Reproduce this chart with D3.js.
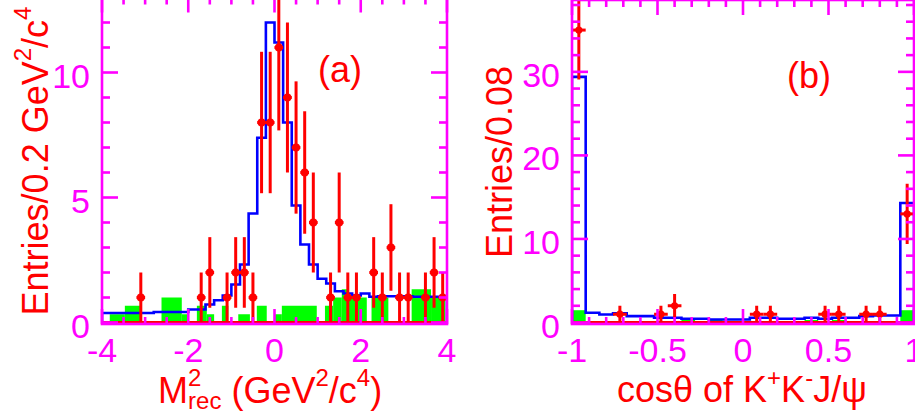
<!DOCTYPE html>
<html><head><meta charset="utf-8">
<script src="https://cdn.jsdelivr.net/npm/d3@7"></script>
<style>body{margin:0;background:#fff}svg{display:block}text{font-family:"Liberation Sans",Arial,sans-serif}</style>
</head><body>
<svg id="c" width="915" height="419"></svg>
<script>
// ---------- Panel (a): M^2_rec ----------
const aBinLo = -4, aBinW = 0.2;
const aBlue = [0.38,0.38,0.38,0.38,0.38,0.38,0.42,0.42,0.42,0.42,
               0.52,0.52,0.72,0.89,1.08,1.52,2.32,4.36,7.39,12.0,
               11.2,8.0,4.68,3.12,2.32,1.75,1.56,1.25,1.16,1.08,
               1.16,1.03,1.05,1.05,1.05,1.05,1.03,1.03,1.03,1.03];
const aDataX = [-3.1,-1.7,-1.5,-1.1,-0.9,-0.7,-0.5,-0.3,-0.1,0.1,0.3,0.5,0.7,0.9,1.3,1.5,1.7,1.9,2.3,2.5,2.7,2.9,3.1,3.5,3.7,3.9];
const aDataN = [1,1,2,1,2,2,1,8,8,11,9,7,6,4,1,4,1,1,2,1,3,1,1,1,2,1];
const aGreenX0 = [-3.82,-3.47,-2.62,-2.15,-1.80,-1.57,-1.22,-0.84,-0.41,0.01,0.17,1.17,1.36,1.56,1.71,2.25,3.18,3.63];
const aGreenX1 = [-3.47,-3.12,-2.15,-2.00,-1.57,-1.40,-1.07,-0.57,-0.18,0.17,0.98,1.36,1.56,1.71,2.14,2.64,3.63,3.96];
const aGreenH  = [0.33,0.67,1.0,0.33,0.67,0.33,0.67,0.33,0.67,0.33,0.67,0.67,1.0,1.33,1.0,1.0,1.33,1.0];
const aXTicks = [-4,-2,0,2,4];
const aYTicks = [0,5,10];

// ---------- Panel (b): cos theta ----------
const bBinLo = -1, bBinW = 0.08;
const bBlue = [29.4,1.16,0.96,1.1,0.76,0.76,0.56,0.56,0.44,0.44,0.36,0.36,0.36,0.56,0.56,0.44,0.44,0.56,0.44,0.56,0.56,0.76,0.84,0.84,14.3];
const bGreen = [1.47,0,0,0,0,0,0,0,0.3,0,0.3,0,0,0,0,0,0,0.3,0,0.3,0,0,0,0,1.47];
const bDataX = [-0.96,-0.72,-0.48,-0.40,0.08,0.16,0.48,0.56,0.72,0.80,0.96];
const bDataN = [35,1,1,2,1,1,1,1,1,1,13];
const bXTicks = [-1,-0.5,0,0.5,1];
const bYTicks = [0,10,20,30];

const MAG = "#ff00ff", RED = "#ff0000", BLUE = "#0000ff", GREEN = "#00ff00";
const svg = d3.select("#c");
svg.append("rect").attr("width",915).attr("height",419).attr("fill","#fff");

function panel(o){
  const g = svg.append("g");
  const x = o.x, y = o.y;
  const [x0,x1] = x.range(), [yb,yt] = y.range();
  const clipId = "clip"+o.id;
  svg.append("clipPath").attr("id",clipId).append("rect")
     .attr("x",x0).attr("y",yt).attr("width",x1-x0).attr("height",yb-yt+2);
  const pg = g.append("g").attr("clip-path",`url(#${clipId})`);
  // green
  pg.selectAll("rect.gr").data(o.green).join("rect")
    .attr("x",d=>x(d.x0)).attr("width",d=>x(d.x1)-x(d.x0))
    .attr("y",d=>y(d.h)).attr("height",d=>y(0)-y(d.h)).attr("fill",GREEN);
  // red zero line
  pg.append("line").attr("x1",x0).attr("x2",x1).attr("y1",y(0)-0.5).attr("y2",y(0)-0.5)
    .attr("stroke",RED).attr("stroke-width",2);
  // blue step histogram
  const pts = [[o.binLo,0]];
  o.blue.forEach((v,i)=>{pts.push([o.binLo+i*o.binW,v]);pts.push([o.binLo+(i+1)*o.binW,v]);});
  pts.push([o.binLo+o.blue.length*o.binW,0]);
  pg.append("path").attr("d",d3.line().x(d=>x(d[0])).y(d=>y(d[1]))(pts))
    .attr("fill","none").attr("stroke",BLUE).attr("stroke-width",2.6).attr("stroke-linejoin","miter");
  // data points
  const dg = pg.selectAll("g.pt").data(o.data).join("g");
  dg.append("line").attr("x1",d=>x(d.x)).attr("x2",d=>x(d.x))
    .attr("y1",d=>y(Math.max(0,d.n-Math.sqrt(d.n)))).attr("y2",d=>y(d.n+Math.sqrt(d.n)))
    .attr("stroke",RED).attr("stroke-width",3);
  dg.append("line").attr("x1",d=>x(d.x-o.binW/2)).attr("x2",d=>x(d.x+o.binW/2))
    .attr("y1",d=>y(d.n)).attr("y2",d=>y(d.n)).attr("stroke",RED).attr("stroke-width",3);
  dg.append("circle").attr("cx",d=>x(d.x)).attr("cy",d=>y(d.n)).attr("r",o.r).attr("fill",RED);
  // frame
  g.append("rect").attr("x",x0).attr("y",yt).attr("width",x1-x0).attr("height",yb-yt+1.5)
    .attr("fill","none").attr("stroke",MAG).attr("stroke-width",2.6);
  // ticks
  const tg = g.append("g").attr("stroke",MAG).attr("stroke-width",2.6);
  const xMin = x.ticks ? d3.range(Math.round((x.domain()[1]-x.domain()[0])/o.xMinor)+1).map(i=>x.domain()[0]+i*o.xMinor) : [];
  xMin.forEach(v=>{
    const maj = Math.abs(v/o.xMajor - Math.round(v/o.xMajor))<1e-6;
    const L = maj?15:7;
    tg.append("line").attr("x1",x(v)).attr("x2",x(v)).attr("y1",yt).attr("y2",yt+L);
    tg.append("line").attr("x1",x(v)).attr("x2",x(v)).attr("y1",yb+1.5).attr("y2",yb+1.5-L);
  });
  const yN = Math.floor(y.domain()[1]/o.yMinor);
  d3.range(yN+1).map(i=>i*o.yMinor).forEach(v=>{
    const maj = Math.abs(v/o.yMajor - Math.round(v/o.yMajor))<1e-6;
    const L = maj?16:8;
    tg.append("line").attr("x1",x0).attr("x2",x0+L).attr("y1",y(v)).attr("y2",y(v));
    tg.append("line").attr("x1",x1).attr("x2",x1-L).attr("y1",y(v)).attr("y2",y(v));
  });
  // tick labels
  g.selectAll("text.xt").data(o.xTicks).join("text")
    .attr("x",d=>x(d)).attr("y",362).attr("text-anchor","middle")
    .attr("font-size",34).attr("fill",MAG).text(d=>d3.format("")(d).replace("−","-"));
  g.selectAll("text.yt").data(o.yTicks).join("text")
    .attr("x",x0-12).attr("y",d=>y(d)+15).attr("text-anchor","end")
    .attr("font-size",34).attr("fill",MAG).text(d=>d);
  // panel label
  g.append("text").attr("x",o.lab[0]).attr("y",o.lab[1]).attr("text-anchor","middle")
    .attr("font-size",36).attr("fill",RED).text(o.label);
}

panel({id:"a", x:d3.scaleLinear([-4,4],[102,447]), y:d3.scaleLinear([0,13],[322.5,-2.5]),
  binLo:aBinLo, binW:aBinW, blue:aBlue,
  green:aGreenX0.map((v,i)=>({x0:v,x1:aGreenX1[i],h:aGreenH[i]})),
  data:aDataX.map((v,i)=>({x:v,n:aDataN[i]})), r:4,
  xMinor:0.5, xMajor:2, yMinor:1, yMajor:5, xTicks:aXTicks, yTicks:aYTicks,
  label:"(a)", lab:[340,82]});

panel({id:"b", x:d3.scaleLinear([-1,1],[572,914]), y:d3.scaleLinear([0,38.6],[322.5,0]),
  binLo:bBinLo, binW:bBinW, blue:bBlue,
  green:bGreen.map((h,i)=>({x0:bBinLo+i*bBinW,x1:bBinLo+(i+1)*bBinW,h:h})).filter(d=>d.h>0),
  data:bDataX.map((v,i)=>({x:v,n:bDataN[i]})), r:3.6,
  xMinor:0.1, xMajor:0.5, yMinor:2, yMajor:10, xTicks:bXTicks, yTicks:bYTicks,
  label:"(b)", lab:[809,88]});

// axis titles
function title(t, parts){
  parts.forEach(p=>{
    const ts = t.append("tspan").text(p.t).attr("font-size",p.s||36);
    if(p.dy) ts.attr("dy",p.dy);
    if(p.dx) ts.attr("dx",p.dx);
  });
}
const tA = svg.append("text").attr("x",158).attr("y",403).attr("fill",RED);
title(tA,[{t:"M"},{t:"2",s:24,dy:-17},{t:"rec",s:24,dy:23,dx:-13.3},{t:" (GeV",dy:-6},{t:"2",s:24,dy:-17},{t:"/c",dy:17},{t:"4",s:24,dy:-17},{t:")",dy:17}]);

const tB = svg.append("text").attr("x",617).attr("y",402).attr("fill",RED);
title(tB,[{t:"cos\u03b8 of K"},{t:"+",s:24,dy:-16},{t:"K",dy:16},{t:"-",s:24,dy:-16},{t:"J/\u03c8",dy:16}]);

const yA = svg.append("text").attr("transform","translate(48,161) rotate(-90)").attr("text-anchor","middle").attr("fill",RED);
title(yA,[{t:"Entries/0.2 GeV"},{t:"2",s:24,dy:-17},{t:"/c",dy:17},{t:"4",s:24,dy:-17}]);

svg.append("text").attr("transform","translate(512,162) rotate(-90)").attr("text-anchor","middle")
  .attr("fill",RED).attr("font-size",36).text("Entries/0.08");
</script>
</body></html>
